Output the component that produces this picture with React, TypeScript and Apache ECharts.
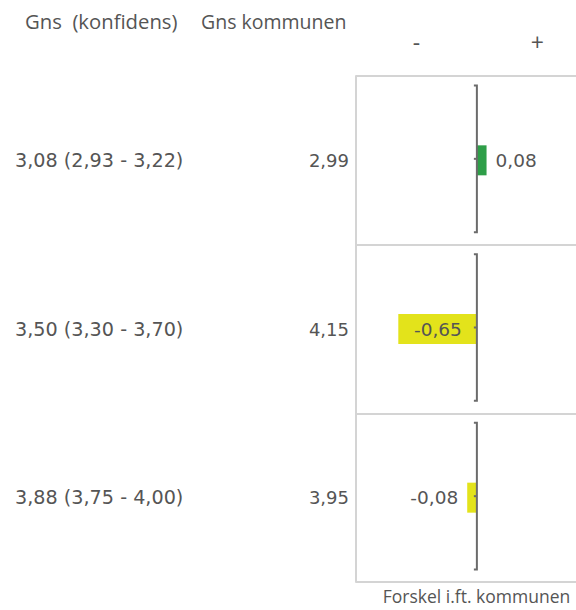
import React, { useEffect, useRef } from "react";
import * as echarts from "echarts";

const rowLabels = ["3,08 (2,93 - 3,22)", "3,50 (3,30 - 3,70)", "3,88 (3,75 - 4,00)"];
const kommuneLabels = ["2,99", "4,15", "3,95"];
const diffs = [0.08, -0.65, -0.08];
const signTicks: Record<string, string> = { "-0.5": "-", "0.5": "+" };
const headerLeft = "Gns  (konfidens)";
const headerMid = "Gns kommunen";
const xTitle = "Forskel i.ft. kommunen";

const fmt = (v: number) => v.toFixed(2).replace(".", ",");

export default function App() {
  const ref = useRef<HTMLDivElement>(null);
  useEffect(() => {
    if (!ref.current) return;
    const chart = echarts.init(ref.current, undefined, { renderer: "svg" });
    const textColor = "#555555";
    const borderColor = "#d4d4d4";
    chart.setOption({
      animation: false,
      title: [
        {
          text: headerLeft,
          left: 20,
          top: 6,
          textStyle: { fontFamily: "Open Sans", fontSize: 20.3, fontWeight: "normal", color: textColor },
        },
        {
          text: headerMid,
          left: 196,
          top: 6,
          textStyle: { fontFamily: "Open Sans", fontSize: 19.5, fontWeight: "normal", color: textColor },
        },
      ],
      grid: { left: 356, top: 76, bottom: 25, right: 0 },
      xAxis: [
        {
          type: "value",
          min: -1,
          max: 0.82,
          interval: 0.5,
          position: "top",
          axisLine: { show: false },
          axisTick: { show: false },
          splitLine: { show: false },
          axisLabel: {
            margin: 23,
            fontFamily: "Open Sans",
            fontSize: 23,
            color: textColor,
            showMaxLabel: false,
            formatter: (v: number) => signTicks[String(v)] ?? "",
          },
        },
        {
          type: "value",
          min: -1,
          max: 0.82,
          position: "bottom",
          axisLine: { show: false },
          axisTick: { show: false },
          splitLine: { show: false },
          axisLabel: { show: false },
          name: xTitle,
          nameLocation: "middle",
          nameGap: 5,
          nameTextStyle: {
            fontFamily: "Open Sans",
            fontSize: 17.5,
            color: textColor,
            verticalAlign: "top",
            padding: [0, 0, 0, 21],
          },
        },
      ],
      yAxis: [
        {
          type: "category",
          data: rowLabels,
          inverse: true,
          axisLine: { show: true, onZero: false, lineStyle: { color: borderColor, width: 2 } },
          axisTick: { show: false },
          splitLine: { show: true, lineStyle: { color: borderColor, width: 2 } },
          axisLabel: {
            align: "left",
            margin: 341,
            fontFamily: "DejaVu Sans",
            fontSize: 19.2,
            color: textColor,
          },
        },
        {
          type: "category",
          data: kommuneLabels,
          inverse: true,
          position: "left",
          axisLine: { show: false },
          axisTick: { show: false },
          splitLine: { show: false },
          axisLabel: {
            align: "right",
            margin: 7,
            fontFamily: "DejaVu Sans",
            fontSize: 18,
            color: textColor,
          },
        },
      ],
      series: [
        {
          type: "bar",
          xAxisIndex: 0,
          yAxisIndex: 0,
          barWidth: 30,
          data: diffs.map((v) => ({
            value: v,
            itemStyle: { color: v >= 0 ? "#2e9e48" : "#e3e31b" },
            label: {
              show: true,
              position: v >= 0 ? "right" : v < -0.3 ? "insideRight" : "left",
              distance: v < -0.3 ? 15 : 9,
              formatter: () => fmt(v),
              fontFamily: "DejaVu Sans",
              fontSize: 18.5,
              color: textColor,
            },
          })),
        },
        {
          type: "custom",
          xAxisIndex: 0,
          yAxisIndex: 0,
          z: 5,
          data: diffs.map((_, i) => [0, i]),
          renderItem: (params: any, api: any) => {
            const idx = api.value(1);
            const p = api.coord([0, idx]);
            const band = api.size([0, 1])[1];
            const half = band * 0.435;
            const x = p[0];
            const y = p[1] - 1.5;
            const style = { stroke: "#6b6b6b", lineWidth: 2, fill: "none" };
            return {
              type: "group",
              children: [
                {
                  type: "polyline",
                  shape: {
                    points: [
                      [x - 3, y - half],
                      [x, y - half],
                      [x, y + half],
                      [x - 3, y + half],
                    ],
                  },
                  style,
                },
                {
                  type: "line",
                  shape: { x1: x - 3, y1: y, x2: x, y2: y },
                  style,
                },
              ],
            };
          },
        },
      ],
    });
    return () => chart.dispose();
  }, []);
  return (
    <div
      ref={ref}
      style={{ position: "absolute", left: 0, top: 0, width: 576, height: 610, background: "#fff" }}
    />
  );
}
